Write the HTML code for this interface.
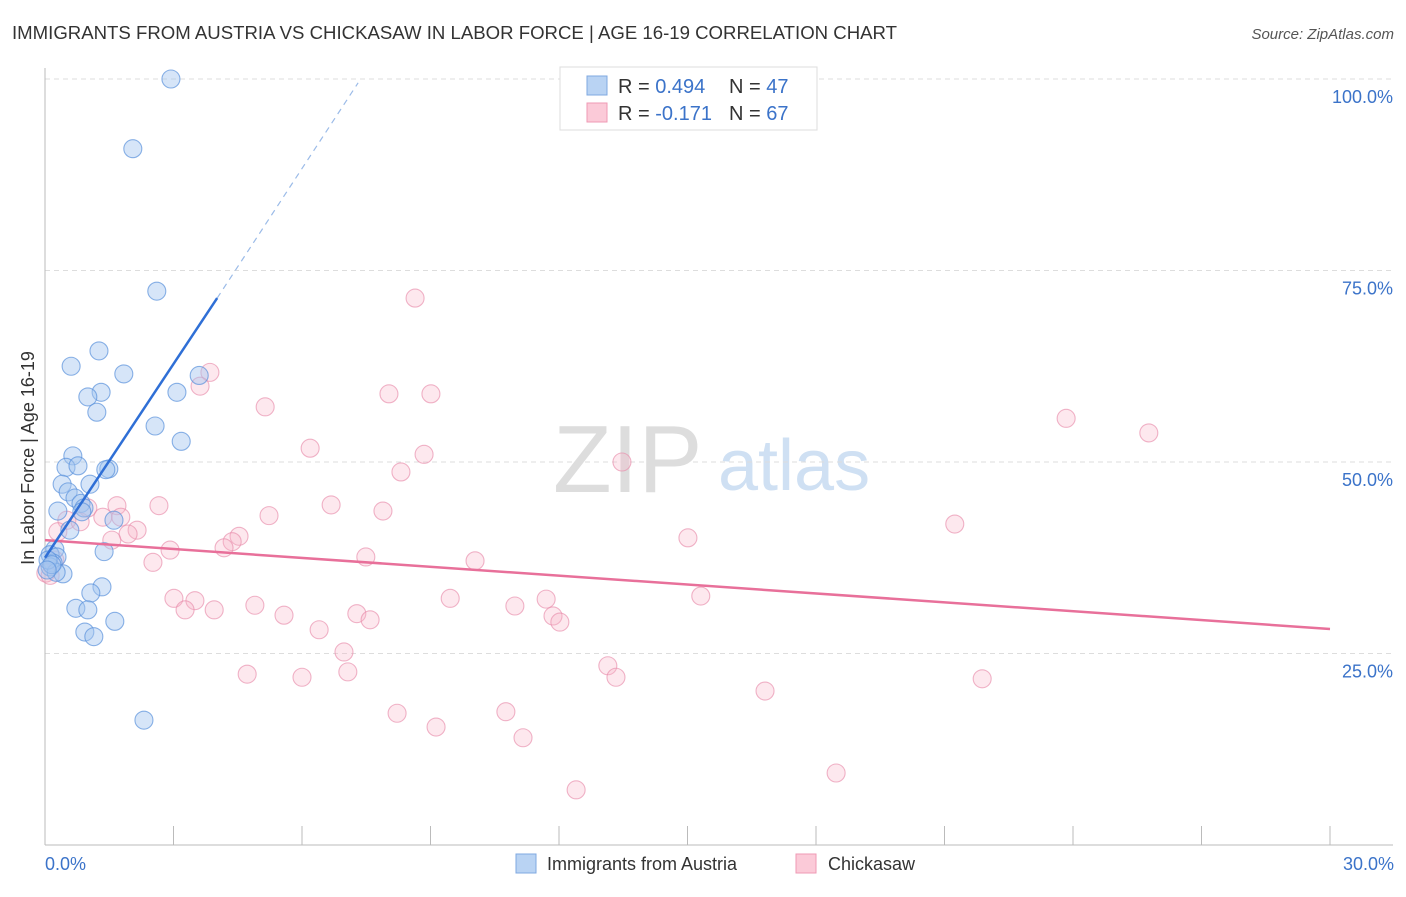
<!DOCTYPE html>
<html><head><meta charset="utf-8"><style>
body{margin:0;background:#fff;font-family:"Liberation Sans",sans-serif}
svg text{font-family:"Liberation Sans",sans-serif}
</style></head><body>
<svg id="chart" width="1406" height="892" viewBox="0 0 1406 892">
<text x="12" y="39" font-size="18" fill="#333" textLength="885" lengthAdjust="spacingAndGlyphs">IMMIGRANTS FROM AUSTRIA VS CHICKASAW IN LABOR FORCE | AGE 16-19 CORRELATION CHART</text>
<text x="1394" y="39" font-size="15" fill="#555" font-style="italic" text-anchor="end">Source: ZipAtlas.com</text>
<g>
<text x="553" y="492" font-size="96" font-family="Liberation Serif" fill="#ddd">ZIP</text>
<text x="718" y="490" font-size="72" fill="#cfe0f3">atlas</text>
</g>
<g id="grid"></g>
<g id="axes"></g>
<g id="marks"></g>
<g id="trends"></g>
<text transform="translate(34,458) rotate(-90)" font-size="18" fill="#333" text-anchor="middle">In Labor Force | Age 16-19</text>
<text x="45" y="870" font-size="18" fill="#3b73c9">0.0%</text>
<text x="1394" y="870" font-size="18" fill="#3b73c9" text-anchor="end">30.0%</text>
<g>
<rect x="560" y="67" width="257" height="63" fill="#fff" stroke="#ddd"/>
<rect x="587" y="76" width="20" height="19" fill="#b9d3f3" stroke="#7fa8e0"/>
<rect x="587" y="103" width="20" height="19" fill="#fbcad8" stroke="#ef9ab4"/>
<text x="618" y="93" font-size="20" fill="#333">R = <tspan fill="#3b73c9">0.494</tspan></text>
<text x="729" y="93" font-size="20" fill="#333">N = <tspan fill="#3b73c9">47</tspan></text>
<text x="618" y="120" font-size="20" fill="#333">R = <tspan fill="#3b73c9">-0.171</tspan></text>
<text x="729" y="120" font-size="20" fill="#333">N = <tspan fill="#3b73c9">67</tspan></text>
</g>
<g>
<rect x="516" y="854" width="20" height="19" fill="#b9d3f3" stroke="#7fa8e0"/>
<text x="547" y="870" font-size="18" fill="#333">Immigrants from Austria</text>
<rect x="796" y="854" width="20" height="19" fill="#fbcad8" stroke="#ef9ab4"/>
<text x="828" y="870" font-size="18" fill="#333">Chickasaw</text>
</g>
</svg>
<script>
const yTicks=[25,50,75,100];
const yTickLabels=["25.0%","50.0%","75.0%","100.0%"];
const xTicks=[0,3,6,9,12,15,18,21,24,27,30];
const austriaX=[2.94,2.05,2.61,1.26,0.61,1.84,1.31,1.00,3.60,3.08,1.21,2.57,3.18,0.65,0.49,0.77,1.49,1.42,1.05,0.40,0.54,0.70,0.84,0.91,0.30,0.86,1.61,0.58,1.38,0.23,0.12,0.28,0.19,0.12,0.42,0.26,1.33,1.07,0.72,1.00,1.63,0.93,1.14,2.31,0.07,0.16,0.05];
const austriaY=[100.0,90.9,72.3,64.5,62.5,61.5,59.1,58.5,61.3,59.1,56.5,54.7,52.7,50.8,49.3,49.5,49.1,49.0,47.1,47.1,46.1,45.3,44.6,44.0,43.6,43.5,42.4,41.1,38.3,38.6,37.9,37.6,36.8,36.3,35.4,35.6,33.7,32.9,30.9,30.7,29.2,27.8,27.2,16.3,37.2,36.6,35.9];
const chickX=[8.64,3.85,3.62,5.14,8.03,9.01,23.84,25.77,6.19,8.85,13.47,8.31,2.66,6.68,7.89,5.23,1.68,21.24,1.00,0.51,0.82,1.35,1.77,2.15,1.94,1.56,0.30,15.01,4.53,4.37,4.18,2.92,2.52,7.49,10.04,0.23,0.02,3.01,3.50,3.27,3.95,4.90,5.58,9.46,10.97,11.70,15.31,7.28,7.59,11.86,12.02,6.40,6.98,13.14,13.33,4.72,6.00,7.07,16.81,21.88,8.22,9.13,10.76,11.16,18.47,12.40,0.12];
const chickY=[71.4,61.7,59.9,57.2,58.9,58.9,55.7,53.8,51.8,51.0,50.0,48.7,44.3,44.4,43.6,43.0,44.3,41.9,44.0,42.4,42.2,42.8,42.8,41.1,40.6,39.8,40.9,40.1,40.3,39.6,38.8,38.5,36.9,37.6,37.1,37.2,35.5,32.2,31.9,30.7,30.7,31.3,30.0,32.2,31.2,32.1,32.5,30.2,29.4,29.9,29.1,28.1,25.2,23.4,21.9,22.3,21.9,22.6,20.1,21.7,17.2,15.4,17.4,14.0,9.4,7.2,35.2];
const austriaTrend=[[0,37.5],[4.02,71.4]];
const austriaTrendExt=[[4.02,71.4],[7.31,99.5]];
const chickTrend=[[0,39.8],[30,28.2]];

const NS="http://www.w3.org/2000/svg";
const sx=v=>45+v/30*1285;
const sy=v=>845-v/100*766;
function mk(tag,attrs,parent){const e=document.createElementNS(NS,tag);for(const k in attrs)e.setAttribute(k,attrs[k]);parent.appendChild(e);return e;}
const grid=document.getElementById('grid'),axes=document.getElementById('axes'),marks=document.getElementById('marks'),trends=document.getElementById('trends');
yTicks.forEach((t,i)=>{
  const l=mk('line',{x1:45,x2:1393,y1:sy(t),y2:sy(t),stroke:'#ddd','stroke-dasharray':'5,4'},grid);
  
  
  const tx=mk('text',{x:1393,y:sy(t)+24,'font-size':18,fill:'#3b73c9','text-anchor':'end'},axes);
  tx.textContent=yTickLabels[i];
  
  
});
const ya=mk('line',{x1:45,x2:45,y1:68,y2:845,stroke:'#bbb'},axes);


const xa=mk('line',{x1:45,x2:1393,y1:845,y2:845,stroke:'#bbb'},axes);


xTicks.forEach(t=>{
  const l=mk('line',{x1:sx(t),x2:sx(t),y1:826,y2:845,stroke:'#bbb'},axes);
  
  
});
function pts(X,Y,fill,stroke,name){
  X.forEach((x,i)=>{
    const c=mk('circle',{cx:sx(x),cy:sy(Y[i]),r:9,fill:fill,stroke:stroke,'stroke-width':1.1},marks);
    
    
  });
}
pts(chickX,chickY,'rgba(248,180,200,0.3)','rgba(232,140,170,0.65)','chickasaw-point');
pts(austriaX,austriaY,'rgba(165,198,240,0.45)','rgba(90,145,220,0.7)','austria-point');
function ln(seg,color,w,dash,name){
  const a={x1:sx(seg[0][0]),y1:sy(seg[0][1]),x2:sx(seg[1][0]),y2:sy(seg[1][1]),stroke:color,'stroke-width':w};
  if(dash)a['stroke-dasharray']=dash;
  const l=mk('line',a,trends);
  
  
}
ln(chickTrend,'#e8709a',2.5,null,'chickasaw-trend-line');
ln(austriaTrend,'#2f6fd6',2.5,null,'austria-trend-line');
ln(austriaTrendExt,'#9bbbe8',1.2,'6,5','austria-trend-extension');
</script>
</body></html>
